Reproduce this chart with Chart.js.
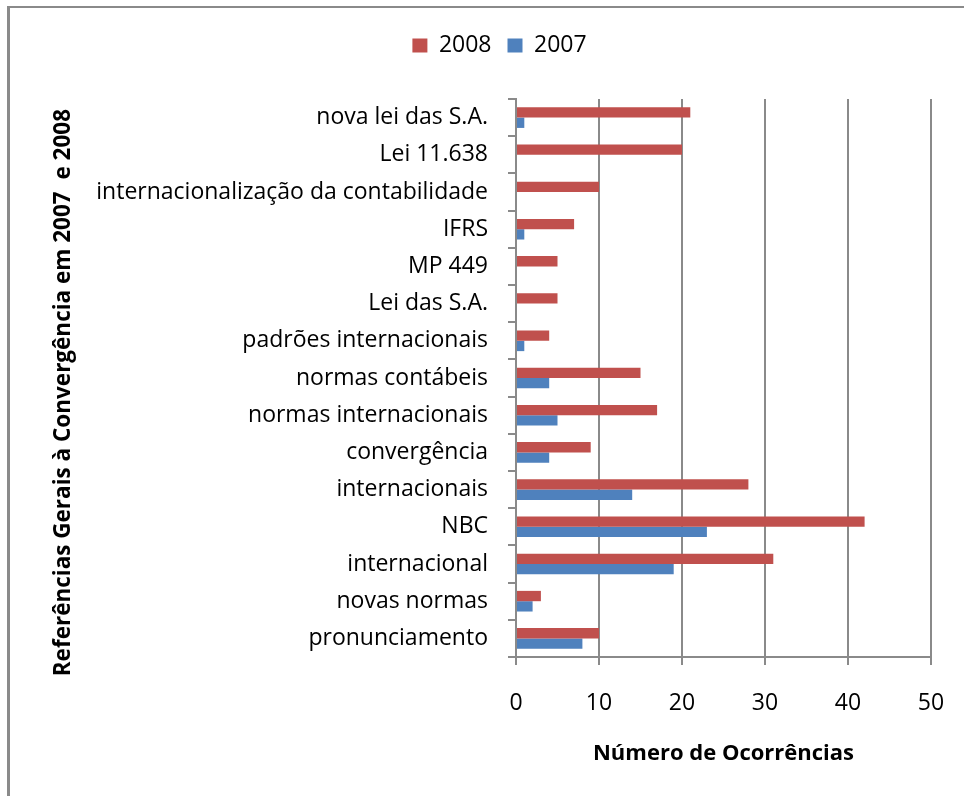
<!DOCTYPE html>
<html><head><meta charset="utf-8">
<script src="https://cdn.jsdelivr.net/npm/chart.js@4/dist/chart.umd.min.js"></script>
<style>
html,body{margin:0;padding:0;background:#fff;}
#wrap{position:relative;width:964px;height:796px;overflow:hidden;background:#fff;}
#frame{position:absolute;left:7px;top:6px;width:1000px;height:900px;border-left:3px solid #8a8a8a;border-top:2px solid #8a8a8a;}
canvas{position:absolute;left:0;top:0;}
</style></head><body>
<div id="wrap"><div id="frame"></div><canvas id="c" width="964" height="796"></canvas></div>
<script>
const categories = [
  'nova lei das S.A.', 'Lei 11.638', 'internacionalização da contabilidade', 'IFRS',
  'MP 449', 'Lei das S.A.', 'padrões internacionais', 'normas contábeis',
  'normas internacionais', 'convergência', 'internacionais', 'NBC',
  'internacional', 'novas normas', 'pronunciamento'
];
const values2008 = [21, 20, 10, 7, 5, 5, 4, 15, 17, 9, 28, 42, 31, 3, 10];
const values2007 = [1, 0, 0, 1, 0, 0, 1, 4, 5, 4, 14, 23, 19, 2, 8];
const seriesNames = ['2008', '2007'];
const xTickValues = [0, 10, 20, 30, 40, 50];
const xTitle = 'Número de Ocorrências';
const yTitle = 'Referências Gerais à Convergência em 2007  e 2008';

const FONT = "'Open Sans', sans-serif";
const GRID = '#8a8a8a';

const legendSpacer = {
  id: 'legendSpacer',
  afterInit(chart) {
    if (!chart.legend) return;
    const orig = chart.legend.fit;
    chart.legend.fit = function () { orig.call(this); this.height += 32; };
  }
};

new Chart(document.getElementById('c'), {
  type: 'bar',
  data: {
    labels: categories,
    datasets: [
      { label: seriesNames[0], data: values2008, backgroundColor: '#C0504D', borderWidth: 0 },
      { label: seriesNames[1], data: values2007, backgroundColor: '#4F81BD', borderWidth: 0 }
    ]
  },
  plugins: [legendSpacer],
  options: {
    indexAxis: 'y',
    responsive: false,
    animation: false,
    devicePixelRatio: 1,
    categoryPercentage: 0.555,
    barPercentage: 1.0,
    layout: { padding: { left: 68, right: 33, top: 18, bottom: 0 } },
    plugins: {
      legend: {
        position: 'top',
        labels: {
          boxWidth: 15, boxHeight: 14, padding: 16, color: '#000',
          font: { family: FONT, size: 23 }
        }
      },
      tooltip: { enabled: false }
    },
    scales: {
      x: {
        min: 0, max: 50,
        afterBuildTicks(s) { s.ticks = xTickValues.map(v => ({ value: v })); },
        afterFit(s) {
          s.height = 139;
          s.paddingLeft = Math.min(s.paddingLeft, 16);
          s.paddingRight = Math.min(s.paddingRight, 16);
        },
        grid: { color: GRID, lineWidth: 2, tickLength: 8, drawOnChartArea: true },
        border: { color: GRID, width: 2 },
        ticks: { color: '#000', padding: 25, font: { family: FONT, size: 23 } },
        title: {
          display: true, text: xTitle, color: '#000',
          font: { family: FONT, size: 22, weight: 'bold' },
          padding: { top: 0, bottom: 29 }
        }
      },
      y: {
        afterFit(s) { s.width = 448; },
        grid: { color: GRID, lineWidth: 2, tickLength: 8, drawOnChartArea: false, offset: true },
        border: { color: GRID, width: 2 },
        ticks: { color: '#000', padding: 20, font: { family: FONT, size: 23 } },
        title: {
          display: true, text: yTitle + '     ', color: '#000',
          font: { family: FONT, size: 22.5, weight: 'bold' },
          padding: { top: -18, bottom: 0 }
        }
      }
    }
  }
});
</script>
</body></html>
